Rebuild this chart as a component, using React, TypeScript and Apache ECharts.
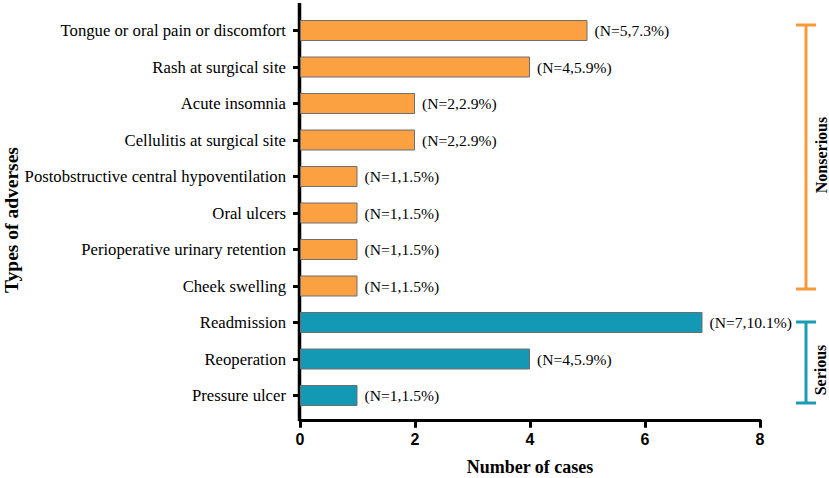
import React, { useEffect, useRef } from "react";
import * as echarts from "echarts";

const categories = [
  "Tongue or oral pain or discomfort",
  "Rash at surgical site",
  "Acute insomnia",
  "Cellulitis at surgical site",
  "Postobstructive central hypoventilation",
  "Oral ulcers",
  "Perioperative urinary retention",
  "Cheek swelling",
  "Readmission",
  "Reoperation",
  "Pressure ulcer",
];
const cases = [5, 4, 2, 2, 1, 1, 1, 1, 7, 4, 1];
const percents = ["7.3", "5.9", "2.9", "2.9", "1.5", "1.5", "1.5", "1.5", "10.1", "5.9", "1.5"];
const severity = [
  "Nonserious", "Nonserious", "Nonserious", "Nonserious", "Nonserious", "Nonserious", "Nonserious", "Nonserious",
  "Serious", "Serious", "Serious",
];
const xTicks = [0, 2, 4, 6, 8];

const ORANGE = "#FBA142";
const TEAL = "#1399B3";
const BRACKET_ORANGE = "#F8993A";
const BRACKET_TEAL = "#1A9AB5";
const SERIF = "'Liberation Serif', 'Times New Roman', serif";
const SANS = "'Liberation Sans', Arial, sans-serif";

export default function App() {
  const ref = useRef<HTMLDivElement>(null);
  useEffect(() => {
    if (!ref.current) return;
    const chart = echarts.init(ref.current, undefined, { renderer: "svg" });
    const line = (x1: number, y1: number, x2: number, y2: number, color: string, w = 3) => ({
      type: "line",
      shape: { x1, y1, x2, y2 },
      style: { stroke: color, lineWidth: w },
      silent: true,
    });
    chart.setOption({
      animation: false,
      grid: { left: 300, top: 12.25, height: 401.5, right: 69, containLabel: false, outerBoundsMode: "none" },
      xAxis: {
        type: "value",
        min: xTicks[0],
        max: xTicks[xTicks.length - 1],
        interval: 2,
        offset: 6,
        splitLine: { show: false },
        axisLine: { show: true, lineStyle: { color: "#000", width: 3 } },
        axisTick: { show: true, length: 8, lineStyle: { color: "#000", width: 3 } },
        axisLabel: { color: "#000", fontFamily: SANS, fontWeight: "bold", fontSize: 16, margin: 12 },
        name: "Number of cases",
        nameLocation: "middle",
        nameGap: 38,
        nameMoveOverlap: false,
        nameTextStyle: { color: "#000", fontFamily: SERIF, fontWeight: "bold", fontSize: 18 },
      },
      yAxis: {
        type: "category",
        inverse: true,
        data: categories,
        axisLine: { show: false },
        axisTick: { show: true, alignWithLabel: true, length: 7, lineStyle: { color: "#000", width: 3 } },
        axisLabel: { color: "#000", fontFamily: SERIF, fontSize: 16.7, margin: 14 },
        name: "Types of adverses",
        nameLocation: "middle",
        nameRotate: 90,
        nameGap: 279,
        nameMoveOverlap: false,
        nameTextStyle: { color: "#000", fontFamily: SERIF, fontWeight: "bold", fontSize: 19.5, padding: [0, 14, 0, 0] },
      },
      series: [
        {
          type: "bar",
          barWidth: 21,
          data: cases.map((v, i) => ({
            value: v,
            itemStyle: {
              color: severity[i] === "Serious" ? TEAL : ORANGE,
              borderColor: "#6e6e6e",
              borderWidth: 1,
            },
          })),
          label: {
            show: true,
            position: "right",
            distance: 7,
            color: "#000",
            fontFamily: SERIF,
            fontSize: 15.6,
            formatter: (p: any) => `(N=${cases[p.dataIndex]},${percents[p.dataIndex]}%)`,
          },
        },
      ],
      graphic: [
        line(299.5, 3, 299.5, 421, "#000", 3.5),
        line(806, 25, 806, 289, BRACKET_ORANGE),
        line(796, 25, 816, 25, BRACKET_ORANGE),
        line(796, 289, 816, 289, BRACKET_ORANGE),
        line(806, 322, 806, 403, BRACKET_TEAL),
        line(796, 322, 816, 322, BRACKET_TEAL),
        line(796, 403, 816, 403, BRACKET_TEAL),
        {
          type: "text",
          x: 821,
          y: 155,
          rotation: Math.PI / 2,
          style: {
            text: "Nonserious",
            fill: "#000",
            font: `bold 16px ${SERIF}`,
            align: "center",
            verticalAlign: "middle",
          },
        },
        {
          type: "text",
          x: 820,
          y: 370,
          rotation: Math.PI / 2,
          style: {
            text: "Serious",
            fill: "#000",
            font: `bold 16px ${SERIF}`,
            align: "center",
            verticalAlign: "middle",
          },
        },
      ],
    });
    return () => chart.dispose();
  }, []);
  return (
    <div
      ref={ref}
      style={{ position: "absolute", left: 0, top: 0, width: 829, height: 478, background: "#fff" }}
    />
  );
}
